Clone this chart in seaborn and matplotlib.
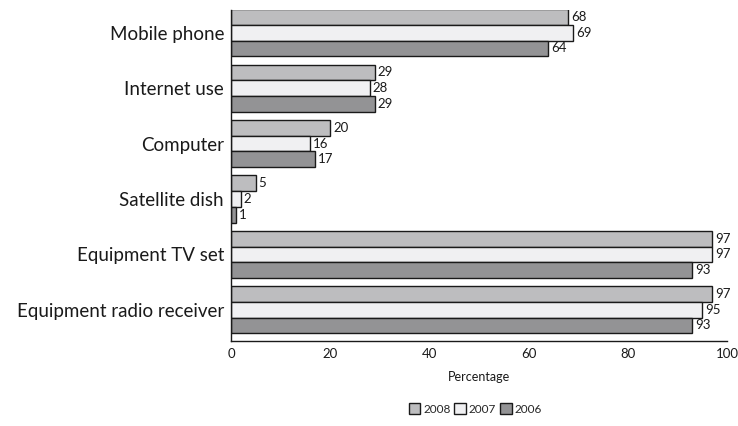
import pandas as pd
import seaborn as sns
import matplotlib.pyplot as plt
from matplotlib.patches import Patch

# Dados
categories = ["Mobile phone", "Internet use", "Computer", "Satellite dish",
              "Equipment TV set", "Equipment radio receiver"]
years = ["2008", "2007", "2006"]
v2008 = [68, 29, 20, 5, 97, 97]
v2007 = [69, 28, 16, 2, 97, 95]
v2006 = [64, 29, 17, 1, 93, 93]
colors = ["#bdbdbf", "#f0f0f2", "#939395"]

df = pd.DataFrame({
    "category": categories * 3,
    "year": [y for y in years for _ in categories],
    "value": v2008 + v2007 + v2006,
})

sns.set_style("white")
plt.rcParams['font.family'] = ['Lato', 'DejaVu Sans']

fig = plt.figure(figsize=(7.38, 4.26), dpi=100)
ax = fig.add_axes([0.313, 0.2, 0.672, 0.777])

sns.barplot(data=df, y="category", x="value", hue="year", order=categories,
            hue_order=years, palette=colors, orient="h", width=0.85,
            edgecolor="#1a1a1a", linewidth=1.0, saturation=1, legend=False, ax=ax)

# Rótulos de valor
for cont in ax.containers:
    ax.bar_label(cont, padding=2, fontsize=9.5, color="#1a1a1a")

ax.set_xlim(0, 100)
ax.set_ylim(5.56, -0.415)
ax.set_xticks([0, 20, 40, 60, 80, 100])
ax.tick_params(axis="x", labelsize=9.5, length=0, pad=5, colors="#1a1a1a")
ax.tick_params(axis="y", labelsize=13.5, length=0, pad=5, colors="#1a1a1a")
ax.set_ylabel("")
ax.set_xlabel("Percentage", fontsize=9, labelpad=8, color="#1a1a1a")

for s in ["top", "right"]:
    ax.spines[s].set_visible(False)
for s in ["left", "bottom"]:
    ax.spines[s].set_color("#1a1a1a")
    ax.spines[s].set_linewidth(1.0)

handles = [Patch(facecolor=c, edgecolor="#1a1a1a", linewidth=1.0) for c in colors]
fig.legend(handles, years, loc="center", bbox_to_anchor=(0.644, 0.04), ncol=3,
           frameon=False, fontsize=8.5, handlelength=1.0, handleheight=1.0,
           handletextpad=0.25, columnspacing=0.3)

plt.savefig("out.png", dpi=100)
